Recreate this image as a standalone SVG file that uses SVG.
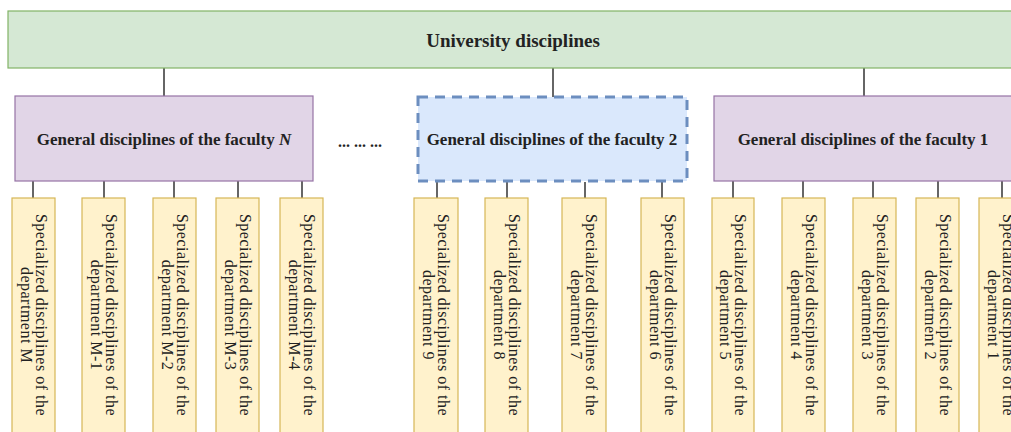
<svg xmlns="http://www.w3.org/2000/svg" width="1011" height="432" viewBox="0 0 1011 432">
<style>
.top{fill:#d5e8d4;stroke:#82b366;stroke-width:1.2}
.fac{fill:#e1d5e7;stroke:#9673a6;stroke-width:1.2}
.fac2{fill:#dae8fc;stroke:#6c8ebf;stroke-width:3;stroke-dasharray:10 7}
.dep{fill:#fff2cc;stroke:#d6b656;stroke-width:1.2}
.conn line{stroke:#333;stroke-width:1.5}
.bt{font-family:"Liberation Serif",serif;font-weight:bold;fill:#222;text-anchor:middle}
.vt{font-family:"Liberation Serif",serif;font-size:16px;letter-spacing:0.5px;fill:#222;text-anchor:middle}
</style>
<rect width="1011" height="432" fill="#ffffff"/>
<g id="connectors" class="conn">
<line x1="164" y1="68" x2="164" y2="96"/>
<line x1="553" y1="68" x2="553" y2="97"/>
<line x1="864" y1="68" x2="864" y2="96"/>
<line x1="33" y1="181" x2="33" y2="198"/>
<line x1="104" y1="181" x2="104" y2="198"/>
<line x1="174" y1="181" x2="174" y2="198"/>
<line x1="238" y1="181" x2="238" y2="198"/>
<line x1="302" y1="181" x2="302" y2="198"/>
<line x1="437" y1="182" x2="437" y2="198"/>
<line x1="507" y1="182" x2="507" y2="198"/>
<line x1="585" y1="182" x2="585" y2="198"/>
<line x1="662" y1="182" x2="662" y2="198"/>
<line x1="733" y1="181" x2="733" y2="198"/>
<line x1="803" y1="181" x2="803" y2="198"/>
<line x1="873" y1="181" x2="873" y2="198"/>
<line x1="938" y1="181" x2="938" y2="198"/>
<line x1="1002" y1="181" x2="1002" y2="198"/>
</g>
<g id="university">
<rect class="top" x="8" y="11" width="1010" height="57"/>
<text class="bt" x="513" y="47" font-size="19">University disciplines</text>
</g>
<g id="facultyN">
<rect class="fac" x="15" y="96" width="298" height="85"/>
<text class="bt" x="164" y="145" font-size="17">General disciplines of the faculty <tspan font-style="italic">N</tspan></text>
</g>
<g id="ellipsis">
<text class="bt" x="360" y="147" font-size="16">... ... ...</text>
</g>
<g id="faculty2">
<rect class="fac2" x="418" y="97" width="269" height="84"/>
<text class="bt" x="552" y="145" font-size="17">General disciplines of the faculty 2</text>
</g>
<g id="faculty1">
<rect class="fac" x="714" y="96" width="298" height="85"/>
<text class="bt" x="863" y="145" font-size="17">General disciplines of the faculty 1</text>
</g>
<g id="depM"><rect class="dep" x="12" y="198" width="43" height="250"/>
<text class="vt" transform="translate(33.5,315) rotate(90)"><tspan x="0" y="-2">Specialized disciplines of the</tspan><tspan x="0" y="13">department M</tspan></text></g>
<g id="depM1"><rect class="dep" x="82" y="198" width="43" height="250"/>
<text class="vt" transform="translate(103.5,315) rotate(90)"><tspan x="0" y="-2">Specialized disciplines of the</tspan><tspan x="0" y="13">department M-1</tspan></text></g>
<g id="depM2"><rect class="dep" x="153" y="198" width="43" height="250"/>
<text class="vt" transform="translate(174.5,315) rotate(90)"><tspan x="0" y="-2">Specialized disciplines of the</tspan><tspan x="0" y="13">department M-2</tspan></text></g>
<g id="depM3"><rect class="dep" x="216" y="198" width="43" height="250"/>
<text class="vt" transform="translate(237.5,315) rotate(90)"><tspan x="0" y="-2">Specialized disciplines of the</tspan><tspan x="0" y="13">department M-3</tspan></text></g>
<g id="depM4"><rect class="dep" x="280" y="198" width="43" height="250"/>
<text class="vt" transform="translate(301.5,315) rotate(90)"><tspan x="0" y="-2">Specialized disciplines of the</tspan><tspan x="0" y="13">department M-4</tspan></text></g>
<g id="dep9"><rect class="dep" x="414" y="198" width="44" height="250"/>
<text class="vt" transform="translate(436,315) rotate(90)"><tspan x="0" y="-2">Specialized disciplines of the</tspan><tspan x="0" y="13">department 9</tspan></text></g>
<g id="dep8"><rect class="dep" x="485" y="198" width="43" height="250"/>
<text class="vt" transform="translate(506.5,315) rotate(90)"><tspan x="0" y="-2">Specialized disciplines of the</tspan><tspan x="0" y="13">department 8</tspan></text></g>
<g id="dep7"><rect class="dep" x="562" y="198" width="44" height="250"/>
<text class="vt" transform="translate(584,315) rotate(90)"><tspan x="0" y="-2">Specialized disciplines of the</tspan><tspan x="0" y="13">department 7</tspan></text></g>
<g id="dep6"><rect class="dep" x="641" y="198" width="43" height="250"/>
<text class="vt" transform="translate(662.5,315) rotate(90)"><tspan x="0" y="-2">Specialized disciplines of the</tspan><tspan x="0" y="13">department 6</tspan></text></g>
<g id="dep5"><rect class="dep" x="712" y="198" width="42" height="250"/>
<text class="vt" transform="translate(733,315) rotate(90)"><tspan x="0" y="-2">Specialized disciplines of the</tspan><tspan x="0" y="13">department 5</tspan></text></g>
<g id="dep4"><rect class="dep" x="782" y="198" width="43" height="250"/>
<text class="vt" transform="translate(803.5,315) rotate(90)"><tspan x="0" y="-2">Specialized disciplines of the</tspan><tspan x="0" y="13">department 4</tspan></text></g>
<g id="dep3"><rect class="dep" x="853" y="198" width="43" height="250"/>
<text class="vt" transform="translate(874.5,315) rotate(90)"><tspan x="0" y="-2">Specialized disciplines of the</tspan><tspan x="0" y="13">department 3</tspan></text></g>
<g id="dep2"><rect class="dep" x="916" y="198" width="43" height="250"/>
<text class="vt" transform="translate(937.5,315) rotate(90)"><tspan x="0" y="-2">Specialized disciplines of the</tspan><tspan x="0" y="13">department 2</tspan></text></g>
<g id="dep1"><rect class="dep" x="979" y="198" width="43" height="250"/>
<text class="vt" transform="translate(1000.5,315) rotate(90)"><tspan x="0" y="-2">Specialized disciplines of the</tspan><tspan x="0" y="13">department 1</tspan></text></g>
</svg>
